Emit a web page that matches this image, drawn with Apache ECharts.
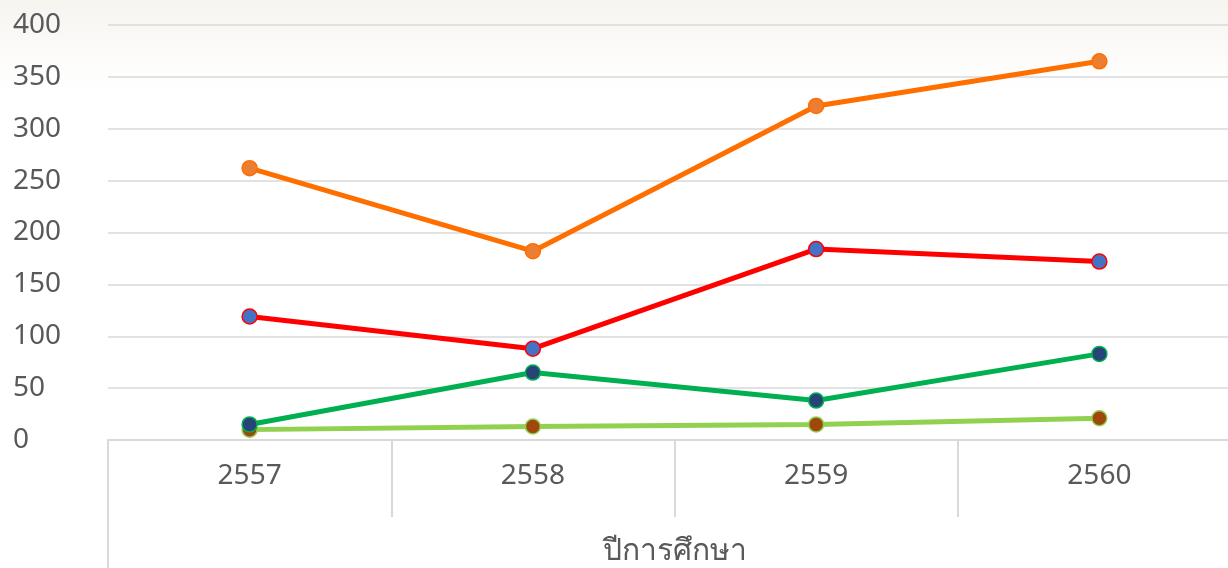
<!DOCTYPE html>
<html>
<head>
<meta charset="utf-8">
<script src="https://cdn.jsdelivr.net/npm/echarts@6/dist/echarts.min.js"></script>
<style>
  html, body { margin: 0; padding: 0; }
  #chart { width: 1228px; height: 568px; }
</style>
</head>
<body>
<div id="chart"></div>
<script>
// ปีการศึกษา
var years = ['2557', '2558', '2559', '2560'];

// ค่าที่อ่านจากภาพ
var orangeVals = [262, 182, 322, 365];
var redVals = [119, 88, 184, 172];
var greenVals = [15, 65, 38, 83];
var limeVals = [10, 13, 15, 21];

var chart = echarts.init(document.getElementById('chart'));

function lineSeries(name, data, lineColor, dotColor) {
    return {
        name: name,
        type: 'line',
        data: data,
        symbol: 'circle',
        symbolSize: 15,
        lineStyle: { color: lineColor, width: 5 },
        itemStyle: { color: dotColor, borderColor: lineColor, borderWidth: 1.5 },
        emphasis: { disabled: true }
    };
}

var option = {
    backgroundColor: {
        type: 'linear', x: 0, y: 0, x2: 0, y2: 1,
        colorStops: [
            { offset: 0, color: '#f6f4ef' },
            { offset: 0.11, color: '#fdfcfb' },
            { offset: 0.16, color: '#ffffff' },
            { offset: 1, color: '#ffffff' }
        ]
    },
    animation: false,
    grid: {
        left: 108, top: 25, bottom: 128, right: -13,
        containLabel: false, outerBoundsMode: 'none'
    },
    xAxis: {
        type: 'category',
        data: years,
        boundaryGap: true,
        name: 'ปีการศึกษา',
        nameLocation: 'middle',
        nameGap: 96,
        nameTextStyle: { fontSize: 30, color: '#595959', fontFamily: 'Noto Sans, sans-serif' },
        axisLine: { lineStyle: { color: '#d9d9d9', width: 2 } },
        axisTick: { show: true, length: 77, interval: 0, lineStyle: { color: '#d9d9d9', width: 2 } },
        axisLabel: { fontSize: 28, color: '#595959', margin: 22, fontFamily: 'Noto Sans, sans-serif' }
    },
    yAxis: {
        type: 'value',
        min: 0,
        max: 400,
        interval: 50,
        axisLine: { show: false },
        axisTick: { show: false },
        splitLine: { lineStyle: { color: '#d9d9d9', width: 1.5 } },
        axisLabel: {
            fontSize: 28, color: '#595959', align: 'left', margin: 95,
            fontFamily: 'Noto Sans, sans-serif'
        }
    },
    graphic: [{
        type: 'line',
        shape: { x1: 108, y1: 440, x2: 108, y2: 568 },
        style: { stroke: '#d9d9d9', lineWidth: 2 }
    }],
    series: [
        lineSeries('lime', limeVals, '#92d050', '#9e480e'),
        lineSeries('green', greenVals, '#00b050', '#264478'),
        lineSeries('red', redVals, '#ff0000', '#4472c4'),
        lineSeries('orange', orangeVals, '#ff6f00', '#ed7d31')
    ]
};

chart.setOption(option);
</script>
</body>
</html>
